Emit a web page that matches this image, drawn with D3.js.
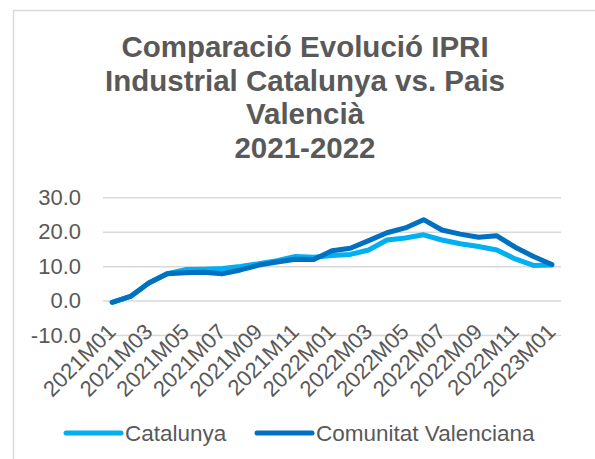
<!DOCTYPE html>
<html>
<head>
<meta charset="utf-8">
<script src="https://d3js.org/d3.v7.min.js"></script>
<style>
  body { margin: 0; background: #fff; }
  svg { display: block; font-family: "Liberation Sans", Arial, sans-serif; }
</style>
</head>
<body>
<div id="chart"></div>
<script>
const months = ["2021M01","2021M02","2021M03","2021M04","2021M05","2021M06","2021M07","2021M08","2021M09","2021M10","2021M11","2021M12",
  "2022M01","2022M02","2022M03","2022M04","2022M05","2022M06","2022M07","2022M08","2022M09","2022M10","2022M11","2022M12","2023M01"];
const catalunya = [-0.5, 1.2, 5.1, 7.8, 9.0, 9.1, 9.3, 9.9, 10.7, 11.6, 12.8, 12.6, 13.1, 13.4, 14.7, 17.6, 18.2, 19.1, 17.6, 16.5, 15.7, 14.7, 12.1, 10.2, 10.3];
const valenciana = [-0.5, 1.2, 5.1, 7.8, 8.1, 8.2, 7.8, 8.9, 10.3, 11.2, 12.0, 11.9, 14.5, 15.2, 17.4, 19.7, 21.1, 23.5, 20.5, 19.3, 18.4, 18.8, 15.5, 12.8, 10.5];
const yTicks = [-10, 0, 10, 20, 30];
const titleLines = ["Comparació Evolució IPRI", "Industrial Catalunya vs. Pais", "Valencià", "2021-2022"];

const w = 595, h = 459;
const grey = "#595959";
const series = [
  {name: "Catalunya", values: catalunya, color: "#00B0F0"},
  {name: "Comunitat Valenciana", values: valenciana, color: "#0070C0"}
];

const svg = d3.select("#chart").append("svg")
  .attr("width", w).attr("height", h);

// chart frame
svg.append("rect")
  .attr("x", 13.5).attr("y", 10.5)
  .attr("width", 700).attr("height", 600)
  .attr("fill", "none").attr("stroke", "#d9d9d9").attr("stroke-width", 1.5);

// title
svg.append("text")
  .attr("text-anchor", "middle")
  .attr("font-size", "29.5px").attr("font-weight", "bold").attr("fill", grey)
  .selectAll("tspan").data(titleLines).join("tspan")
    .attr("x", 305).attr("y", (d, i) => 57 + i * 33.7)
    .text(d => d);

const x = d3.scaleBand().domain(months).range([103, 561]).padding(0);
const y = d3.scaleLinear().domain([-10, 30]).range([335, 197.3]);

// y axis + gridlines
const yAxis = svg.append("g")
  .attr("transform", "translate(103,0)")
  .call(d3.axisLeft(y).tickValues(yTicks).tickFormat(d => d.toFixed(1)).tickSize(-458).tickPadding(22));
yAxis.select(".domain").remove();
yAxis.selectAll(".tick line").attr("stroke", "#d9d9d9").attr("stroke-width", 1.5);
yAxis.selectAll(".tick text").attr("fill", grey).attr("font-size", "22px")
  .attr("font-family", "Liberation Sans, Arial, sans-serif");

// x axis labels
const xAxis = svg.append("g")
  .attr("transform", "translate(0,335)")
  .call(d3.axisBottom(x).tickValues(months.filter((d, i) => i % 2 === 0)).tickSize(0));
xAxis.select(".domain").remove();
xAxis.selectAll(".tick text")
  .attr("fill", grey).attr("font-size", "22px")
  .attr("font-family", "Liberation Sans, Arial, sans-serif")
  .attr("text-anchor", "end")
  .attr("dy", null).attr("y", 0)
  .attr("transform", "translate(5,-2) rotate(-45)");

// lines
const line = d3.line()
  .x((d, i) => x(months[i]) + x.bandwidth() / 2)
  .y(d => y(d));

svg.selectAll(".series").data(series).join("path")
  .attr("class", "series")
  .attr("d", d => line(d.values))
  .attr("fill", "none")
  .attr("stroke", d => d.color)
  .attr("stroke-width", 5)
  .attr("stroke-linejoin", "round")
  .attr("stroke-linecap", "round");

// legend
const legendX = [66, 257];
const lg = svg.selectAll(".legend").data(series).join("g")
  .attr("class", "legend")
  .attr("transform", (d, i) => `translate(${legendX[i]},433)`);
lg.append("line")
  .attr("x1", 0).attr("x2", 55)
  .attr("stroke", d => d.color).attr("stroke-width", 5).attr("stroke-linecap", "round");
lg.append("text")
  .attr("x", 59).attr("y", 8)
  .attr("font-size", "22.5px").attr("fill", grey)
  .text(d => d.name);
</script>
</body>
</html>
